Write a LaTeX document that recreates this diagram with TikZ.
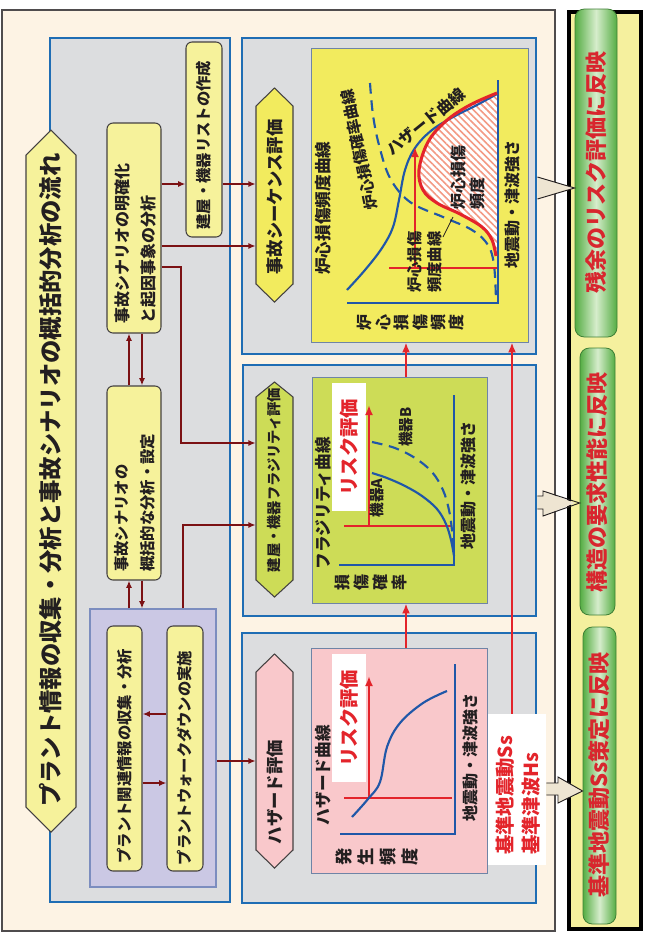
\documentclass[tikz,border=0pt]{standalone}
\usepackage{fontspec}
\setmainfont{Noto Sans CJK JP}
\usepackage{graphicx}
\usetikzlibrary{arrows.meta,patterns.meta,fit}
\definecolor{cream}{HTML}{FDF3E4}
\definecolor{boxgray}{HTML}{DCDDDF}
\definecolor{bblue}{HTML}{1F6DB4}
\definecolor{lyel}{HTML}{F6F29B}
\definecolor{yel}{HTML}{F2EB5E}
\definecolor{ygreen}{HTML}{CDDC57}
\definecolor{lpink}{HTML}{F9C8CB}
\definecolor{lpurple}{HTML}{CBC8E4}
\definecolor{purpborder}{HTML}{7C8DBF}
\definecolor{dred}{HTML}{7B1114}
\definecolor{rred}{HTML}{E3242B}
\definecolor{hatchred}{HTML}{F39A84}
\definecolor{barred}{HTML}{D8262E}
\definecolor{cblue}{HTML}{2057A8}
\definecolor{txt}{HTML}{231F20}
\definecolor{colfill}{HTML}{F5F09E}
\definecolor{gdark}{HTML}{55AD43}
\definecolor{glight}{HTML}{D6EDCC}
\definecolor{gborder}{HTML}{3F7F36}
\definecolor{arrfill}{HTML}{EEE5D2}
\definecolor{pborder}{HTML}{6F84A6}
\tikzset{
  bluebox/.style={draw=bblue, line width=2.2pt, fill=boxgray, inner sep=0pt},
  panel/.style={draw=pborder, line width=0.6pt, inner sep=0pt},
  ybox/.style={draw=txt!85, line width=0.8pt, fill=lyel, rounded corners=4.5pt, inner sep=0pt},
  hexline/.style={draw=txt!85, line width=0.8pt},
  hexn/.style={inner sep=0pt},
  btxt/.style={rotate=90, inner sep=0pt, text=txt, font=\bfseries\fontsize{11.5}{19.5}\selectfont},
  hextxt/.style={rotate=90, inner sep=0pt, text=txt, font=\bfseries\fontsize{13}{15}\selectfont},
  lab/.style={rotate=90, inner sep=0pt, text=txt, font=\bfseries\fontsize{12}{14}\selectfont},
  risk/.style={rotate=90, inner sep=0pt, text=rred, font=\bfseries\fontsize{14.5}{16}\selectfont},
  bartxt/.style={rotate=90, inner sep=0pt, text=barred, font=\bfseries\fontsize{16.5}{18}\selectfont},
  gbar/.style={draw=gborder, line width=0.6pt, rounded corners=7pt, left color=gdark, right color=gdark, middle color=glight, inner sep=0pt},
  darr/.style={draw=dred, line width=1.5pt, -{Latex[length=5.5pt,width=4.5pt]}},
  rarr/.style={draw=rred, line width=1.9pt, -{Latex[length=7.5pt,width=6pt]}},
  rline/.style={draw=rred, line width=1.9pt},
  bcurve/.style={draw=cblue, line width=1.6pt},
  dcurve/.style={draw=cblue, line width=1.6pt, dash pattern=on 8pt off 5pt},
  axline/.style={draw=cblue, line width=1.5pt},
}
\begin{document}
\begin{tikzpicture}[x=0.75pt,y=-0.75pt]
\useasboundingbox (0,0) rectangle (644,933);
\fill[white] (0,0) rectangle (644,933);

% outer cream frame
\node[fit={(2,10)(555,931)}, draw=txt!80, line width=0.8pt, fill=cream, inner sep=0pt] (frame) {};

% left big box
\node[bluebox, fit={(50,38)(230,902)}] (leftbox) {};
% right boxes
\node[bluebox, fit={(242,38)(536,354)}] (seqbox) {};
\node[bluebox, fit={(243,365)(536,616)}] (fragbox) {};
\node[bluebox, fit={(242,633)(536,903)}] (hazbox) {};

% title hexagon
\path[fill=lyel, hexline] (51,130) -- (76,155) -- (76,807) -- (51,832) -- (26,807) -- (26,155) -- cycle;
\node[hexn, fit={(26,130)(76,832)}] (title) {};
\node[rotate=90, inner sep=0pt, text=txt, font=\bfseries\fontsize{17.5}{20}\selectfont] at (51,480) {プラント情報の収集・分析と事故シナリオの概括的分析の流れ};

% left column boxes
\node[ybox, fit={(186,42)(222,237)}] (list) {};
\node[btxt] at (204,145) {建屋・機器リストの作成};
\node[ybox, fit={(107,123)(161,333)}] (mk) {};
\node[btxt, anchor=west, align=left, font=\bfseries\fontsize{12}{19.5}\selectfont] at (136,324) {事故シナリオの明確化\\と起因事象の分析};
\node[ybox, fit={(107,386)(161,580)}] (gk) {};
\node[btxt, anchor=west, align=left] at (134.5,572) {事故シナリオの\\概括的な分析・設定};
\node[fit={(90,609)(216,887)}, draw=purpborder, line width=0.8pt, fill=lpurple, inner sep=0pt] (purple) {};
\node[ybox, fit={(107,626)(142,871)}] (rel) {};
\node[btxt] at (125,756) {プラント関連情報の収集・分析};
\node[ybox, fit={(167,626)(203,871)}] (walk) {};
\node[btxt] at (185,758) {プラントウォークダウンの実施};

% right hexagons
\path[fill=yel, hexline] (274.5,88) -- (293,106) -- (293,284) -- (274.5,302) -- (256,284) -- (256,106) -- cycle;
\node[hexn, fit={(256,88)(293,302)}] (seqh) {};
\node[hextxt] at (274.5,197) {事故シーケンス評価};
\path[fill=ygreen, hexline] (274.5,382) -- (293,397) -- (293,580) -- (274.5,597) -- (256,580) -- (256,397) -- cycle;
\node[hexn, fit={(256,382)(293,597)}] (fragh) {};
\node[hextxt, font=\bfseries\fontsize{10.7}{13}\selectfont] at (274.5,480) {建屋・機器フラジリティ評価};
\path[fill=lpink, hexline] (274.5,654) -- (293,672) -- (293,850) -- (274.5,868) -- (256,850) -- (256,672) -- cycle;
\node[hexn, fit={(256,654)(293,868)}] (hazh) {};
\node[hextxt] at (274.5,792) {ハザード評価};

% panels
\node[panel, fill=yel, fit={(311,48)(528,342)}] (seqp) {};
\node[panel, fill=ygreen, fit={(312,377)(487,603)}] (fragp) {};
\node[panel, fill=lpink, fit={(311,648)(487,873)}] (hazp) {};

% ---- top panel (core damage) ----
\fill[white] plot[smooth, tension=0.6] coordinates {(497,93) (470,105) (446,121) (428,142) (419,170) (423,190) (437,203) (460,214) (482,227) (492,240) (496,256)} -- (498,256) -- (498,93) -- cycle;
\fill[pattern={Lines[angle=-45, distance=3.6pt, line width=1.2pt]}, pattern color=hatchred] plot[smooth, tension=0.6] coordinates {(497,93) (470,105) (446,121) (428,142) (419,170) (423,190) (437,203) (460,214) (482,227) (492,240) (496,256)} -- (498,256) -- (498,93) -- cycle;
\draw[axline] (498,80) -- (498,303) -- (347,303);
\draw[dcurve] plot[smooth, tension=0.6] coordinates {(370,83) (373,115) (379,145) (390,178) (410,202) (443,217) (472,230) (488,245) (494,265) (496,300)};
\draw[bcurve] plot[smooth, tension=0.6] coordinates {(347,290) (365,270) (382,248) (393,227) (399,200) (405,170) (415,148) (432,130) (455,116) (475,106) (497,94)};
\draw[rline, line width=2.3pt] plot[smooth, tension=0.6] coordinates {(497,93) (470,105) (446,121) (428,142) (419,170) (423,190) (437,203) (460,214) (482,227) (492,240) (496,256)};
\draw[rline] (389,268) -- (497,268);
\draw[rarr] (415,268) -- (415,147);
\node[lab, font=\bfseries\fontsize{12.5}{14}\selectfont] at (323,208) {炉心損傷頻度曲線};
\node[lab, rotate=12, font=\bfseries\fontsize{11.5}{14}\selectfont] at (359,150) {炉心損傷確率曲線};
\node[lab, rotate=-51] at (426,122) {ハザード曲線};
\node[lab, anchor=west, align=left, font=\bfseries\fontsize{12}{14.3}\selectfont] at (467.5,210) {炉心損傷\\頻度};
\node[lab, anchor=west, align=left, font=\bfseries\fontsize{11.5}{15}\selectfont] at (425,293) {炉心損傷\\頻度曲線};
\draw[txt, line width=0.6pt] (443,237) -- (453,217);
\node[lab] at (512,204) {地震動・津波強さ};
\node[lab, align=center, font=\bfseries\fontsize{12}{13.8}\selectfont] at (411,322) {炉\\心\\損\\傷\\頻\\度};

% ---- middle panel (fragility) ----
\draw[axline] (454,395) -- (454,565) -- (339,565);
\node[fill=white, fit={(332,383)(366,511)}, inner sep=0pt] (riskf) {};
\node[risk] at (349,447) {リスク評価};
\draw[rline] (344,526) -- (452,526);
\draw[rarr] (369,526) -- (369,405);
\draw[bcurve] plot[smooth, tension=0.6] coordinates {(372,473) (387,478) (405,486) (422,496) (437,509) (446,524) (451,540) (454,556)};
\draw[dcurve] plot[smooth, tension=0.6] coordinates {(372,442) (395,448) (415,458) (432,472) (443,490) (449,510) (452,530) (454,550)};
\node[lab, font=\bfseries\fontsize{12.5}{14}\selectfont] at (323,503) {フラジリティ曲線};
\node[lab, font=\bfseries\fontsize{11}{13}\selectfont] at (406,427) {機器B};
\node[lab, font=\bfseries\fontsize{11}{13}\selectfont] at (377,498) {機器A};
\node[lab] at (468,485) {地震動・津波強さ};
\node[lab, align=center, font=\bfseries\fontsize{12}{14.3}\selectfont] at (371,582) {損\\傷\\確\\率};

% ---- bottom panel (hazard) ----
\draw[axline] (455,664) -- (455,834) -- (340,834);
\node[fill=white, fit={(332,654)(366,782)}, inner sep=0pt] (riskh) {};
\node[risk] at (349,718) {リスク評価};
\draw[rline] (344,798) -- (452,798);
\draw[rarr] (369,798) -- (369,676);
\draw[bcurve] plot[smooth, tension=0.6] coordinates {(352,817) (368,799) (380,782) (387,747) (400,723) (423,703) (447,691)};
\node[lab, font=\bfseries\fontsize{12.5}{14}\selectfont] at (323,775) {ハザード曲線};
\node[lab] at (470,757) {地震動・津波強さ};
\node[lab, align=center, font=\bfseries\fontsize{13}{16.3}\selectfont] at (377,857) {発\\生\\頻\\度};

% ---- dark red connectors ----
\draw[darr] (mk.east |- 0,184) -- (list.west |- 0,184);
\draw[darr] (list.east |- 0,184) -- (seqh.west |- 0,184);
\draw[darr] (mk.east |- 0,246) -- (seqh.west |- 0,246);
\draw[darr] (mk.east |- 0,267) -- (181,267) -- (181,443) -- (fragh.west |- 0,443);
\draw[darr] (purple.north -| 183,0) -- (183,525) -- (fragh.west |- 0,525);
\draw[darr] (gk.north -| 129,0) -- (mk.south -| 129,0);
\draw[darr] (mk.south -| 142,0) -- (gk.north -| 142,0);
\draw[darr] (purple.north -| 129,0) -- (gk.south -| 129,0);
\draw[darr] (gk.south -| 142,0) -- (purple.north -| 142,0);
\draw[darr] (walk.west |- 0,714) -- (rel.east |- 0,714);
\draw[darr] (rel.east |- 0,783) -- (walk.west |- 0,783);
\draw[darr] (purple.east |- 0,761) -- (hazh.west |- 0,761);

% ---- red connectors ----
\node[fill=white, fit={(488,714)(546,865)}, inner sep=0pt] (sslab) {};
\node[rotate=90, anchor=west, align=left, inner sep=0pt, text=rred, font=\bfseries\fontsize{14.5}{20}\selectfont] at (518,855) {基準地震動Ss\\基準津波Hs};
\draw[rarr] (hazp.north -| 406,0) -- (fragp.south -| 406,0);
\draw[rarr] (fragp.north -| 406,0) -- (seqp.south -| 406,0);
\draw[rarr] (sslab.north -| 512,0) -- (seqp.south -| 512,0);

% ---- right column ----
\node[fit={(569,12)(641,929)}, draw=black, line width=2.4pt, fill=colfill, inner sep=0pt] (col) {};
\node[gbar, fit={(575,9)(617,337)}] (bar1) {};
\node[bartxt] at (596,172) {残余のリスク評価に反映};
\node[gbar, fit={(580,348)(615,615)}] (bar2) {};
\node[bartxt] at (597.5,482) {構造の要求性能に反映};
\node[gbar, fit={(583,627)(616,924)}] (bar3) {};
\node[bartxt] at (599.5,775) {基準地震動Ss策定に反映};

% ---- block arrows ----
\fill[arrfill] (seqbox.east |- 0,177) -- (bar1.west |- 0,188) -- (seqbox.east |- 0,199) -- cycle;
\draw[txt, line width=0.7pt] (seqbox.east |- 0,177) -- (bar1.west |- 0,188) -- (seqbox.east |- 0,199);
\fill[arrfill] (537,496) -- (543,496) -- (543,491) -- (575,503) -- (543,516) -- (543,509) -- (537,509) -- cycle;
\draw[txt, line width=0.7pt] (fragbox.east |- 0,496) -- (543,496) -- (543,491) -- (bar2.west |- 0,503) -- (543,516) -- (543,509) -- (fragbox.east |- 0,509);
\fill[arrfill] (546,783) -- (558,783) -- (558,777) -- (583,791) -- (558,803) -- (558,795) -- (546,795) -- cycle;
\draw[txt, line width=0.7pt] (sslab.east |- 0,783) -- (558,783) -- (558,777) -- (bar3.west |- 0,791) -- (558,803) -- (558,795) -- (sslab.east |- 0,795);
\end{tikzpicture}
\end{document}
